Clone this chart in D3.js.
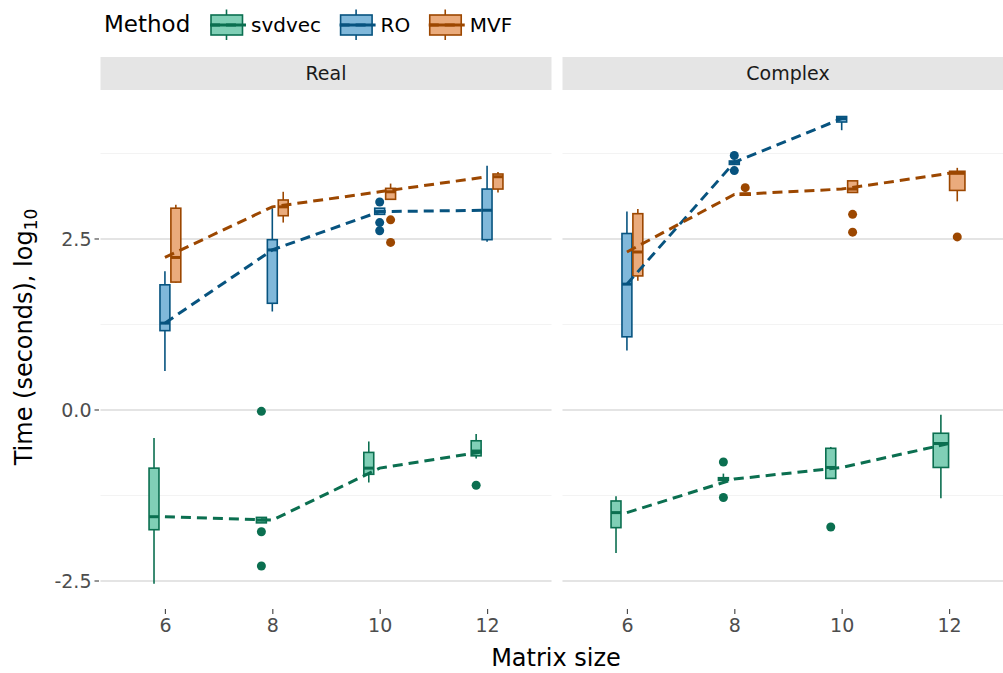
<!DOCTYPE html>
<html>
<head>
<meta charset="utf-8">
<script src="https://cdn.jsdelivr.net/npm/d3@7"></script>
<style>
html,body{margin:0;padding:0;background:#fff;}
svg{display:block;font-family:"DejaVu Sans",sans-serif;}
</style>
</head>
<body>
<svg id="chart" width="1003" height="673"></svg>
<script>
// ---------- data ----------
const sizes = ["6", "8", "10", "12"];
const methods = ["svdvec", "RO", "MVF"];
const panelNames = ["Real", "Complex"];
const yTicks = [-2.5, 0, 2.5];
const yTickLabels = ["-2.5", "0.0", "2.5"];
const yMinor = [-1.25, 1.25, 3.75];

// box stats per size: [lower whisker, q1, median, q3, upper whisker]
const realSvdvec = [[-2.54,-1.75,-1.56,-0.85,-0.41],[-1.65,-1.65,-1.61,-1.57,-1.57],[-1.06,-0.94,-0.85,-0.62,-0.46],[-0.71,-0.67,-0.60,-0.45,-0.35]];
const realSvdvecOut = [[],[-0.02,-1.78,-2.28],[],[-1.10]];
const realRO = [[0.57,1.16,1.27,1.83,2.03],[1.44,1.56,2.34,2.49,2.95],[2.86,2.86,2.90,2.95,2.95],[2.46,2.49,2.92,3.23,3.57]];
const realROOut = [[],[],[3.04,2.74,2.62],[]];
const realMVF = [[1.86,1.87,2.23,2.95,3.00],[2.74,2.84,2.97,3.07,3.19],[3.08,3.08,3.19,3.24,3.31],[3.18,3.23,3.41,3.45,3.48]];
const realMVFOut = [[],[],[2.78,2.45],[]];

const complexSvdvec = [[-2.09,-1.72,-1.50,-1.33,-1.26],[-1.05,-1.03,-1.01,-0.99,-0.93],[-1.00,-1.00,-0.84,-0.56,-0.54],[-1.29,-0.84,-0.49,-0.34,-0.07]];
const complexSvdvecOut = [[],[-0.76,-1.28],[-1.71],[]];
const complexRO = [[0.87,1.07,1.84,2.58,2.90],[3.58,3.59,3.62,3.64,3.66],[4.09,4.21,4.26,4.29,4.29],null];
const complexROOut = [[],[3.72,3.50],[],[]];
const complexMVF = [[1.89,1.96,2.31,2.87,2.94],[3.13,3.14,3.15,3.17,3.17],[3.18,3.18,3.23,3.35,3.35],[3.05,3.21,3.46,3.49,3.54]];
const complexMVFOut = [[],[3.25],[2.86,2.60],[2.53]];

const strokeColors = ["#0b6f50", "#07537f", "#9c4700"];
const fillColors = ["#80cfb6", "#80b8da", "#eaab7c"];

const panelData = [
  {name: "Real", stats: [realSvdvec, realRO, realMVF], outs: [realSvdvecOut, realROOut, realMVFOut]},
  {name: "Complex", stats: [complexSvdvec, complexRO, complexMVF], outs: [complexSvdvecOut, complexROOut, complexMVFOut]}
];

// ---------- layout ----------
const svg = d3.select("#chart");
const panelW = 451;
const panelX0 = [100.5, 562.5];
const panelTop = 92.6, panelBottom = 607;
const stripTop = 57, stripBottom = 90;

const y = d3.scaleLinear().domain([-2.88, 4.64]).range([panelBottom, panelTop]);

const dodgeFrac = 0.305;

panelData.forEach((p, pi) => {
  const x0 = panelX0[pi];
  const x = d3.scalePoint().domain(sizes).range([x0, x0 + panelW]).padding(0.6);
  const step = x.step();
  const g = svg.append("g");

  // strip
  g.append("rect").attr("x", x0).attr("y", stripTop).attr("width", panelW).attr("height", stripBottom - stripTop)
    .attr("fill", "#e5e5e5");
  g.append("text").attr("x", x0 + panelW / 2).attr("y", (stripTop + stripBottom) / 2).attr("dy", "0.35em")
    .attr("text-anchor", "middle").attr("font-size", 19).attr("fill", "#1a1a1a").text(p.name);

  // grid
  yMinor.forEach(v => g.append("line").attr("x1", x0).attr("x2", x0 + panelW).attr("y1", y(v)).attr("y2", y(v))
    .attr("stroke", "#f3f3f3").attr("stroke-width", 1));
  yTicks.forEach(v => g.append("line").attr("x1", x0).attr("x2", x0 + panelW).attr("y1", y(v)).attr("y2", y(v))
    .attr("stroke", "#e4e4e4").attr("stroke-width", 2));

  // x axis
  const xAxis = d3.axisBottom(x).tickSize(5).tickPadding(5);
  const ax = g.append("g").attr("transform", `translate(0,${panelBottom + 2})`).call(xAxis);
  ax.select(".domain").remove();
  ax.selectAll(".tick line").attr("stroke", "#4d4d4d").attr("stroke-width", 1.2);
  ax.selectAll(".tick text").attr("font-size", 19).attr("fill", "#4d4d4d").attr("font-family", "DejaVu Sans");

  // boxes
  const medPts = methods.map(() => []);
  sizes.forEach((s, si) => {
    const present = methods.map((m, mi) => mi).filter(mi => p.stats[mi][si]);
    const n = present.length;
    const total = dodgeFrac * step;
    const bw = total / n;
    present.forEach((mi, k) => {
      const st = p.stats[mi][si];
      const cx = x(s) + (k - (n - 1) / 2) * bw;
      const w = bw - 1;
      const col = strokeColors[mi];
      g.append("line").attr("x1", cx).attr("x2", cx).attr("y1", y(st[4])).attr("y2", y(st[3]))
        .attr("stroke", col).attr("stroke-width", 1.6);
      g.append("line").attr("x1", cx).attr("x2", cx).attr("y1", y(st[1])).attr("y2", y(st[0]))
        .attr("stroke", col).attr("stroke-width", 1.6);
      g.append("rect").attr("x", cx - w / 2).attr("width", w)
        .attr("y", y(st[3])).attr("height", Math.max(0.5, y(st[1]) - y(st[3])))
        .attr("fill", fillColors[mi]).attr("stroke", col).attr("stroke-width", 1.6);
      g.append("line").attr("x1", cx - w / 2).attr("x2", cx + w / 2).attr("y1", y(st[2])).attr("y2", y(st[2]))
        .attr("stroke", col).attr("stroke-width", 3);
      p.outs[mi][si].forEach(v => {
        g.append("circle").attr("cx", cx).attr("cy", y(v)).attr("r", 4.5).attr("fill", col);
      });
      medPts[mi].push([x(s), y(st[2])]);
    });
  });

  // median lines
  methods.forEach((m, mi) => {
    g.append("path").attr("d", d3.line()(medPts[mi])).attr("fill", "none")
      .attr("stroke", strokeColors[mi]).attr("stroke-width", 3).attr("stroke-dasharray", "10,6");
  });

  // y axis on first panel
  if (pi === 0) {
    yTicks.forEach((v, i) => {
      svg.append("line").attr("x1", x0 - 6).attr("x2", x0 - 1.5).attr("y1", y(v)).attr("y2", y(v))
        .attr("stroke", "#4d4d4d").attr("stroke-width", 1.2);
      svg.append("text").attr("x", x0 - 9).attr("y", y(v)).attr("dy", "0.35em").attr("text-anchor", "end")
        .attr("font-size", 19).attr("fill", "#4d4d4d").text(yTickLabels[i]);
    });
  }
});

// axis titles
svg.append("text").attr("x", 556).attr("y", 666).attr("text-anchor", "middle").attr("font-size", 24)
  .attr("fill", "#000").text("Matrix size");
const yt = svg.append("text").attr("transform", "translate(32,337) rotate(-90)").attr("text-anchor", "middle")
  .attr("font-size", 24).attr("fill", "#000");
yt.append("tspan").text("Time (seconds), log");
yt.append("tspan").attr("font-size", 17).attr("dy", 5).text("10");

// legend
const leg = svg.append("g");
leg.append("text").attr("x", 104).attr("y", 32).attr("font-size", 23).attr("fill", "#000").text("Method");
let kx = 207;
methods.forEach((m, mi) => {
  const col = strokeColors[mi];
  leg.append("line").attr("x1", kx + 19.5).attr("x2", kx + 19.5).attr("y1", 9.5).attr("y2", 40)
    .attr("stroke", col).attr("stroke-width", 1.6);
  leg.append("rect").attr("x", kx + 4).attr("y", 15).attr("width", 31.5).attr("height", 20)
    .attr("fill", fillColors[mi]).attr("stroke", col).attr("stroke-width", 1.6);
  leg.append("line").attr("x1", kx + 4).attr("x2", kx + 35.5).attr("y1", 25).attr("y2", 25)
    .attr("stroke", col).attr("stroke-width", 3);
  leg.append("line").attr("x1", kx).attr("x2", kx + 39).attr("y1", 25).attr("y2", 25)
    .attr("stroke", col).attr("stroke-width", 3).attr("stroke-dasharray", "10,6").attr("stroke-dashoffset", -3);
  const t = leg.append("text").attr("x", kx + 44).attr("y", 32).attr("font-size", 20).attr("fill", "#000").text(m);
  const tw = t.node().getComputedTextLength();
  kx = kx + 44 + tw + 15.5;
});
</script>
</body>
</html>
